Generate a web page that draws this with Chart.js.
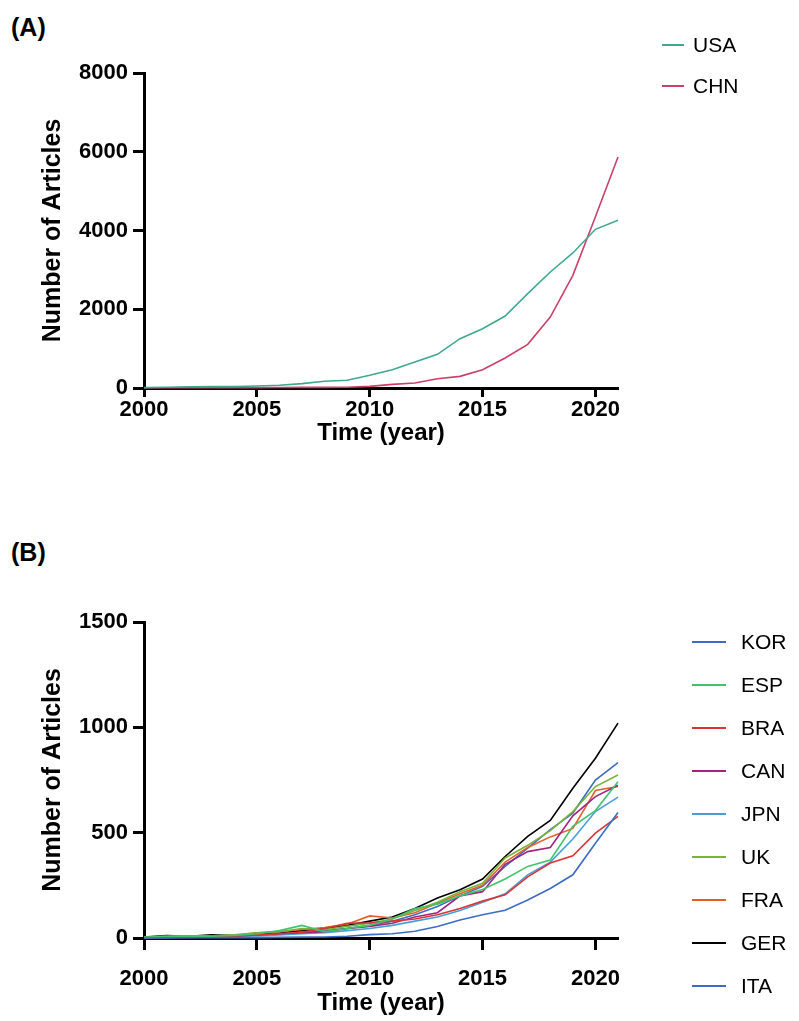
<!DOCTYPE html>
<html><head><meta charset="utf-8">
<script src="https://cdn.jsdelivr.net/npm/chart.js@4"></script>
<style>
html,body{margin:0;padding:0;background:#fff;width:799px;height:1021px;overflow:hidden;}
#wrap{position:relative;width:799px;height:1021px;font-family:"Liberation Sans",Arial,sans-serif;}
.lab{position:absolute;left:11px;font-weight:bold;font-size:25px;color:#000;}
canvas{position:absolute;left:0;}
</style></head><body>
<div id="wrap">
<div class="lab" style="top:13px">(A)</div>
<div class="lab" style="top:538px">(B)</div>
<canvas id="ca" style="top:0" width="799" height="460"></canvas>
<canvas id="cb" style="top:460px" width="799" height="561"></canvas>
</div>
<script>
const years = [2000,2001,2002,2003,2004,2005,2006,2007,2008,2009,2010,2011,2012,2013,2014,2015,2016,2017,2018,2019,2020,2021];
const xTicks = [2000,2005,2010,2015,2020];
const ticksA = [0,2000,4000,6000,8000];
const ticksB = [0,500,1000,1500];

const seriesA = ["USA","CHN"];
const usa = [10,20,30,35,40,50,68,110,170,195,322,466,660,855,1253,1507,1829,2396,2946,3429,4030,4258];
const chn = [5,5,8,8,10,10,12,15,15,20,42,93,127,237,296,466,762,1109,1803,2861,4350,5867];

const seriesB = ["KOR","ESP","BRA","CAN","JPN","UK","FRA","GER","ITA"];
const kor = [0,0,1,1,2,2,3,4,5,8,16,20,32,55,85,110,132,180,235,300,450,596];
const esp = [3,8,10,8,12,20,35,60,30,45,60,90,140,160,200,230,280,340,370,530,605,742];
const bra = [2,3,3,5,8,15,20,28,45,70,72,80,90,110,140,175,205,290,356,390,498,577];
const can = [2,5,5,8,10,15,20,25,30,45,55,70,100,120,200,220,350,410,430,580,671,725];
const jpn = [2,3,5,5,8,10,15,20,25,35,45,60,80,100,130,170,210,300,360,470,600,669];
const uk  = [5,8,10,10,15,25,30,45,40,55,70,90,130,170,220,260,380,440,510,600,719,774];
const fra = [3,5,8,10,12,25,30,40,50,65,105,95,120,165,210,250,360,430,480,520,700,719];
const ger = [5,12,8,15,12,20,25,35,45,60,80,100,140,190,229,280,387,482,558,711,853,1020];
const ita = [3,5,5,8,10,15,20,25,35,45,60,80,110,150,200,245,340,427,514,593,750,833];

const colorsA = ["#3fa98f","#c9416a"];
const colorsB = ["#3b6dc4","#3fc46e","#d83535","#a1247f","#4a9dd9","#7bb33a","#e06229","#000000","#3b6dc4"];

const FONT = "'Liberation Sans', Arial, sans-serif";

function legendPlugin(cfg){
  return {
    id:'customLegend',
    afterDraw(chart){
      const ctx = chart.ctx;
      ctx.save();
      ctx.font = "21px " + FONT;
      ctx.textBaseline = 'middle';
      ctx.textAlign = 'left';
      chart.data.datasets.forEach((ds,i)=>{
        const y = cfg.y0 + i*cfg.dy;
        ctx.strokeStyle = ds.borderColor;
        ctx.lineWidth = 2;
        ctx.beginPath(); ctx.moveTo(cfg.lx0,y); ctx.lineTo(cfg.lx1,y); ctx.stroke();
        ctx.fillStyle = '#000';
        ctx.fillText(ds.label, cfg.tx, y+1);
      });
      ctx.restore();
    }
  };
}

function makeChart(id, names, arrays, colors, yTicks, opts){
  const datasets = names.map((n,i)=>({
    label:n, data:arrays[i], borderColor:colors[i], backgroundColor:colors[i],
    borderWidth:1.6, pointRadius:0, tension:0, fill:false, clip:false
  }));
  const ymax = yTicks[yTicks.length-1];
  return new Chart(document.getElementById(id), {
    type:'line',
    data:{labels:years, datasets},
    options:{
      responsive:false, animation:false,
      layout:{padding:{left:0, right:181, top:opts.top, bottom:0}},
      plugins:{legend:{display:false}, tooltip:{enabled:false}},
      scales:{
        x:{
          type:'linear', min:2000, max:2021,
          afterBuildTicks(s){ s.ticks = xTicks.map(v=>({value:v})); },
          afterFit(s){ s.height = opts.xh; },
          ticks:{color:'#000', font:{family:FONT, size:22, weight:'bold'}, padding:opts.xpad, maxRotation:0, autoSkip:false, callback:v=>String(v)},
          grid:{display:true, drawOnChartArea:false, drawTicks:true, tickLength:opts.xtl, tickWidth:3, tickColor:'#000'},
          border:{display:true, width:3, color:'#000'},
          title:{display:true, text:'Time (year)', color:'#000', font:{family:FONT, size:24, weight:'bold'}, padding:{top:0,bottom:opts.xtpad}}
        },
        y:{
          type:'linear', min:0, max:ymax,
          afterBuildTicks(s){ s.ticks = yTicks.map(v=>({value:v})); },
          afterFit(s){ s.width = 144; },
          ticks:{color:'#000', font:{family:FONT, size:22, weight:'bold'}, padding:5, autoSkip:false, callback:v=>String(v)},
          grid:{display:true, drawOnChartArea:false, drawTicks:true, tickLength:11, tickWidth:3, tickColor:'#000'},
          border:{display:true, width:3, color:'#000'},
          title:{display:true, text:'Number of Articles', color:'#000', font:{family:FONT, size:25, weight:'bold'}, padding:{top:38,bottom:0}}
        }
      }
    },
    plugins:[legendPlugin(opts.legend)]
  });
}

makeChart('ca', seriesA, [usa,chn], colorsA, ticksA,
  {top:73, xh:72, xtl:9, xpad:0, xtpad:12, legend:{y0:45, dy:41, lx0:662, lx1:684, tx:693}});
makeChart('cb', seriesB, [kor,esp,bra,can,jpn,uk,fra,ger,ita], colorsB, ticksB,
  {top:162, xh:83, xtl:12, xpad:16, xtpad:3, legend:{y0:182, dy:43, lx0:692, lx1:726, tx:741}});
</script>
</body></html>
